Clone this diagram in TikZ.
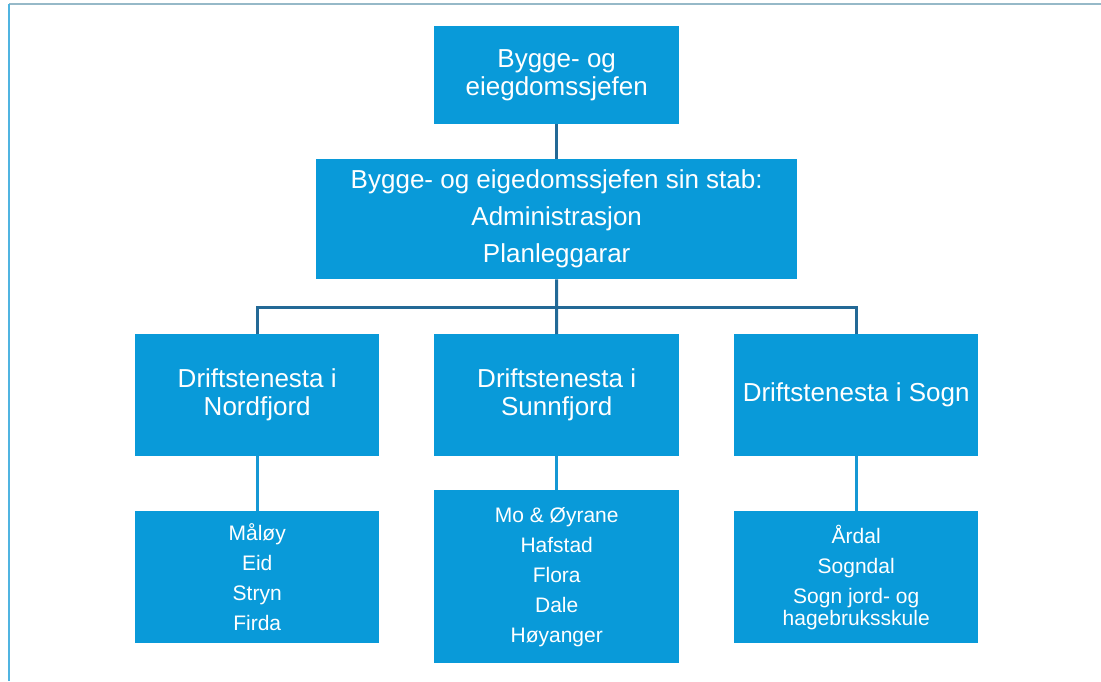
\documentclass[tikz,border=0pt]{standalone}
\usepackage{fontspec}
\setmainfont{Liberation Sans}
\definecolor{boxblue}{RGB}{9,154,217}
\definecolor{darkline}{RGB}{35,105,150}
\definecolor{lightline}{RGB}{22,152,212}
\definecolor{frametop}{RGB}{150,185,200}
\definecolor{frameleft}{RGB}{80,180,225}
\begin{document}
\begin{tikzpicture}[x=1pt,y=-1pt,
  box/.style={fill=boxblue, draw=none, text=white, inner sep=0pt, align=center, anchor=north west},
  bigtext/.style={font=\fontsize{26}{28}\selectfont},
  smalltext/.style={font=\fontsize{21}{30}\selectfont},
  darkconn/.style={draw=darkline, line width=3pt},
  lightconn/.style={draw=lightline, line width=3pt}]
\useasboundingbox (0,0) rectangle (1101,681);
\draw[frametop, line width=1.5pt] (9,4) -- (1101,4);
\draw[frameleft, line width=2pt] (9,4) -- (9,681);

\node[box, bigtext, minimum width=245pt, minimum height=98pt] (top) at (434,26) {Bygge- og\\eiegdomssjefen};
\node[box, font=\fontsize{26}{37}\selectfont, minimum width=481pt, minimum height=120pt] (stab) at (316,159) {Bygge- og eigedomssjefen sin stab:\\Administrasjon\\Planleggarar};

\node[box, bigtext, minimum width=244pt, minimum height=122pt] (nord) at (135,334) {Driftstenesta i\\Nordfjord};
\node[box, bigtext, minimum width=245pt, minimum height=122pt] (sunn) at (434,334) {Driftstenesta i\\Sunnfjord};
\node[box, bigtext, minimum width=244pt, minimum height=122pt] (sogn) at (734,334) {Driftstenesta i Sogn};

\node[box, smalltext, minimum width=244pt, minimum height=132pt] (nordl) at (135,511) {Måløy\\Eid\\Stryn\\Firda};
\node[box, smalltext, minimum width=245pt, minimum height=173pt] (sunnl) at (434,490) {Mo \& Øyrane\\Hafstad\\Flora\\Dale\\Høyanger};
\node[box, smalltext, minimum width=244pt, minimum height=132pt] (sognl) at (734,511) {Årdal\\Sogndal\\Sogn jord- og\\[-8pt]hagebruksskule};

\coordinate (bus) at (556.5,307);
\draw[darkconn] (top.south) -- (stab.north);
\draw[darkconn] (stab.south) -- (bus);
\draw[darkconn] (nord.north) |- (bus) -| (sogn.north);
\draw[darkconn] (bus) -- (sunn.north);

\draw[lightconn] (nord.south) -- (nordl.north);
\draw[lightconn] (sunn.south) -- (sunnl.north);
\draw[lightconn] (sogn.south) -- (sognl.north);
\end{tikzpicture}
\end{document}
